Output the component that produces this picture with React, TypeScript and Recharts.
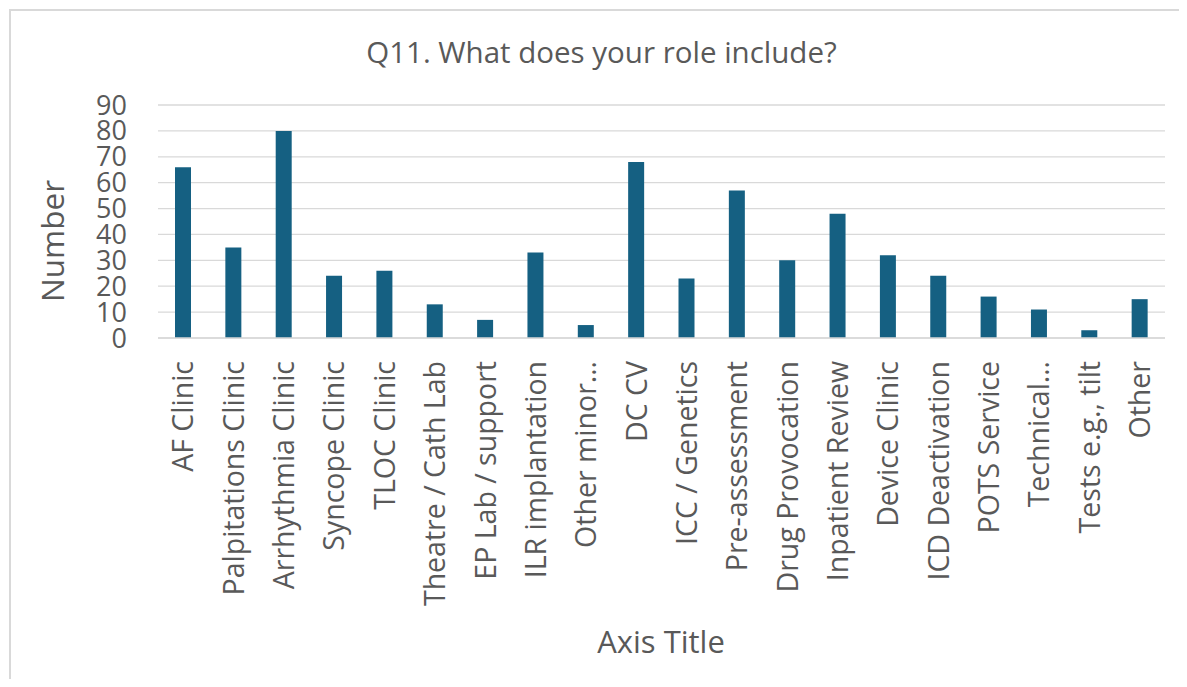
import React from 'react';
import { BarChart, Bar, XAxis, YAxis, CartesianGrid } from 'recharts';

const categories = [
  'AF Clinic',
  'Palpitations Clinic',
  'Arrhythmia Clinic',
  'Syncope Clinic',
  'TLOC Clinic',
  'Theatre / Cath Lab',
  'EP Lab / support',
  'ILR implantation',
  'Other minor…',
  'DC CV',
  'ICC / Genetics',
  'Pre-assessment',
  'Drug Provocation',
  'Inpatient Review',
  'Device Clinic',
  'ICD Deactivation',
  'POTS Service',
  'Technical…',
  'Tests e.g., tilt',
  'Other',
];

const values = [66, 35, 80, 24, 26, 13, 7, 33, 5, 68, 23, 57, 30, 48, 32, 24, 16, 11, 3, 15];

const yTicks = [0, 10, 20, 30, 40, 50, 60, 70, 80, 90];

const data = categories.map((name, i) => ({ name, value: values[i] }));

const FONT = '"Open Sans", "Liberation Sans", Arial, sans-serif';
const TEXT = '#595959';

const XTick = (props: any) => {
  const { x, y, payload } = props;
  return (
    <g transform={`translate(${x},${y + 23})`}>
      <text
        transform="rotate(-90)"
        textAnchor="end"
        dy="0.36em"
        fill={TEXT}
        fontSize={28.5}
        fontFamily={FONT}
      >
        {payload.value}
      </text>
    </g>
  );
};

const YTitle = () => (
  <text
    x={51}
    y={241}
    transform="rotate(-90 51 241)"
    textAnchor="middle"
    dominantBaseline="central"
    fill={TEXT}
    fontSize={31.5}
    fontFamily={FONT}
  >
    Number
  </text>
);

const XTitle = () => (
  <text x={661} y={653} textAnchor="middle" fill={TEXT} fontSize={31} fontFamily={FONT}>
    Axis Title
  </text>
);

export default function App() {
  return (
    <div style={{ position: 'relative', width: 1187, height: 687, margin: -8, overflow: 'hidden', background: '#fff' }}>
      <div
        style={{
          position: 'absolute',
          left: 9,
          top: 9,
          width: 1200,
          height: 700,
          border: '2px solid #d9d9d9',
          boxSizing: 'border-box',
        }}
      />
      <div
        style={{
          position: 'absolute',
          left: 0,
          width: 1203,
          top: 36,
          textAlign: 'center',
          fontFamily: FONT,
          fontSize: 29.5,
          color: TEXT,
          lineHeight: '32px',
        }}
      >
        Q11. What does your role include?
      </div>
      <div style={{ position: 'absolute', left: 0, top: 0 }}>
        <BarChart width={1187} height={687} data={data} margin={{ top: 105, right: 22, bottom: 0, left: 0 }}>
          <CartesianGrid horizontal vertical={false} stroke="#d9d9d9" strokeWidth={1.3} />
          <XAxis
            dataKey="name"
            interval={0}
            height={349}
            tickLine={false}
            tickSize={0}
            tickMargin={0}
            axisLine={{ stroke: '#d9d9d9', strokeWidth: 1.3 }}
            tick={<XTick />}
            label={{ content: <XTitle /> }}
          />
          <YAxis
            width={158}
            domain={[0, 90]}
            ticks={yTicks}
            interval={0}
            axisLine={false}
            tickLine={false}
            tickSize={0}
            tickMargin={31}
            tick={{ fill: TEXT, fontSize: 27, fontFamily: FONT }}
            label={{ content: <YTitle /> }}
          />
          <Bar dataKey="value" fill="#156082" barSize={16} isAnimationActive={false} />
        </BarChart>
      </div>
    </div>
  );
}
